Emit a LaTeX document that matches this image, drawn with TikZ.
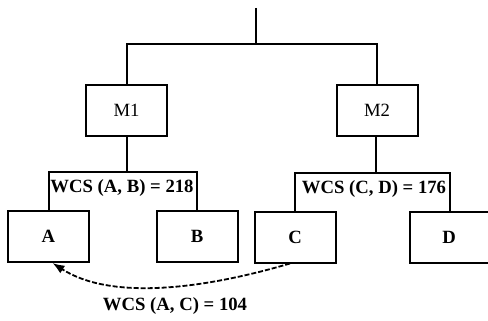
\documentclass[tikz,border=0pt]{standalone}
\usepackage{fontspec}
\setmainfont{Liberation Serif}
\usetikzlibrary{arrows.meta}
\begin{document}
\begin{tikzpicture}[x=1pt,y=-1pt,
  line width=2pt,
  font=\fontsize{18.7}{20}\selectfont,
  cluster/.style={draw, minimum width=81pt, minimum height=51pt, inner sep=0pt},
  leaf/.style={cluster, font=\fontsize{18.7}{20}\selectfont\bfseries},
  wcs/.style={inner sep=0pt, font=\fontsize{18.7}{20}\selectfont\bfseries},
  link/.style={line width=1.8pt, dash pattern=on 5pt off 2pt,
    -{Latex[length=12pt,width=9pt]}}]
\useasboundingbox (0,0) rectangle (488,321);
\clip (0,0) rectangle (488,321);

% merged clusters and leaves
\node[cluster] (M1) at (126.5,110.5) {M1};
\node[cluster] (M2) at (377,110.5) {M2};
\node[leaf] (A) at (48.5,236.5) {A};
\node[leaf] (B) at (197,236.5) {B};
\node[leaf] (C) at (295,237) {C};
% the right-hand leaf runs past the edge of the figure
\node[leaf, minimum width=90pt] (D) at (455,237) {\hspace*{-12pt}D};

% junction points of the dendrogram
\coordinate (root) at (256,8);
\coordinate (j0) at (256,44);
\coordinate (j1) at (126.5,172);
\coordinate (j2) at (376,173);
\coordinate (dtop) at (450,212);

% top level
\draw (root) -- (j0);
\draw (M1.north) |- (j0) -| (M2.north);

% left subtree
\draw (M1.south) -- (j1);
\draw (A.north) |- (j1) -| (B.north);
\node[wcs] (lab1) at (122,188) {WCS (A, B) = 218};

% right subtree
\draw (M2.south -| j2) -- (j2);
\draw (C.north) |- (j2) -| (dtop);
\node[wcs] (lab2) at (374,189) {WCS (C, D) = 176};

% cross-cluster similarity
\coordinate (cstart) at ([xshift=-5pt]C.south);
\coordinate (aend) at ([xshift=4pt]A.south);
\draw[link] (cstart) .. controls (200,290) and (110,300) .. (aend);
\node[wcs] (lab3) at (175,306) {WCS (A, C) = 104};
\end{tikzpicture}
\end{document}
